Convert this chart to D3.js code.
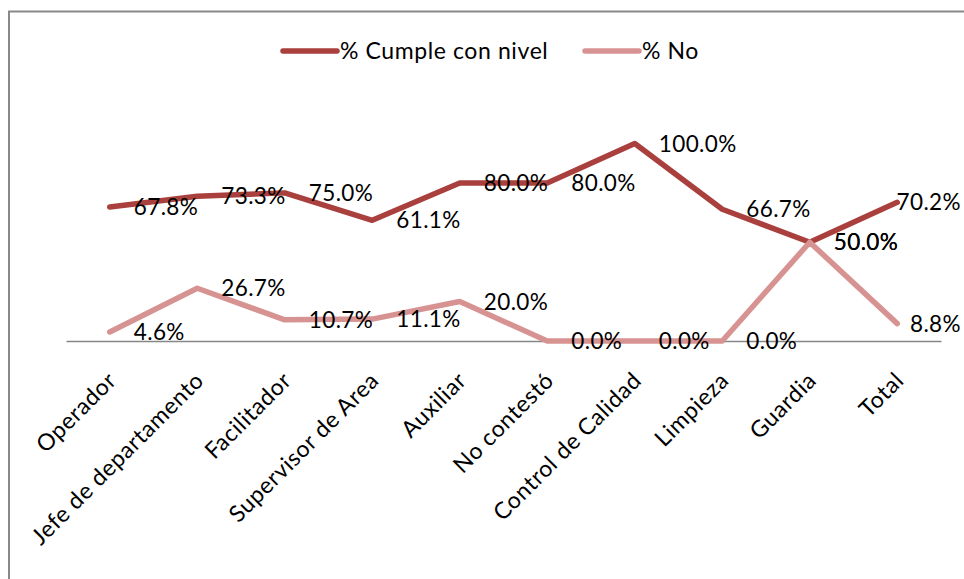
<!DOCTYPE html>
<html>
<head>
<meta charset="utf-8">
<script src="https://cdn.jsdelivr.net/npm/d3@7"></script>
<style>
  body { margin: 0; background: #fff; }
  text { font-family: Lato, "Open Sans", sans-serif; fill: #000; }
</style>
</head>
<body>
<div id="chart"></div>
<script>
var categories = ["Operador", "Jefe de departamento", "Facilitador", "Supervisor de Area", "Auxiliar",
                  "No contestó", "Control de Calidad", "Limpieza", "Guardia", "Total"];
var cumple = [67.8, 73.3, 75.0, 61.1, 80.0, 80.0, 100.0, 66.7, 50.0, 70.2];
var no = [4.6, 26.7, 10.7, 11.1, 20.0, 0.0, 0.0, 0.0, 50.0, 8.8];
var seriesNames = ["% Cumple con nivel", "% No"];

var W = 964, H = 579;
var colors = ["#A9403D", "#D79392"];

var svg = d3.select("#chart").append("svg")
    .attr("width", W)
    .attr("height", H);

// chart frame, only top and left edges show inside the window
svg.append("rect")
    .attr("x", 9).attr("y", 11.5)
    .attr("width", 1200).attr("height", 1200)
    .attr("fill", "none")
    .attr("stroke", "#898989")
    .attr("stroke-width", 2);

var xScale = d3.scaleBand()
    .domain(categories)
    .range([66, 941]);

var yScale = d3.scaleLinear()
    .domain([0, 100])
    .range([341, 143.5]);

// category axis
var xAxis = svg.append("g")
    .attr("transform", "translate(0,341)")
    .call(d3.axisBottom(xScale).tickSize(0).tickSizeOuter(0).tickFormat(""));
xAxis.select(".domain").attr("stroke", "#868686").attr("stroke-width", 1.5);

svg.append("g").selectAll("text")
    .data(categories)
    .enter().append("text")
    .attr("transform", function (d) {
        var cx = xScale(d) + xScale.bandwidth() / 2;
        return "translate(" + (cx + 8) + ",382) rotate(-45)";
    })
    .attr("text-anchor", "end")
    .style("font-size", "23px")
    .style("letter-spacing", "0.6px")
    .text(function (d) { return d; });

var line = d3.line()
    .x(function (d, i) { return xScale(categories[i]) + xScale.bandwidth() / 2; })
    .y(function (d) { return yScale(d); });

var allSeries = [cumple, no];

allSeries.forEach(function (vals, s) {
    svg.append("path")
        .datum(vals)
        .attr("fill", "none")
        .attr("stroke", colors[s])
        .attr("stroke-width", 5.5)
        .attr("stroke-linecap", "round")
        .attr("stroke-linejoin", "round")
        .attr("d", line);
});

// data labels, to the right of each point, kept inside the chart
allSeries.forEach(function (vals, s) {
    svg.append("g").selectAll("text")
        .data(vals)
        .enter().append("text")
        .attr("y", function (d) { return yScale(d); })
        .attr("dy", "0.36em")
        .style("font-size", "22.5px")
        .style("letter-spacing", "0.4px")
        .text(function (d) { return d.toFixed(1) + "%"; })
        .attr("x", function (d, i) {
            var px = xScale(categories[i]) + xScale.bandwidth() / 2 + 24;
            var w = this.getComputedTextLength();
            return Math.min(px, 961 - w);
        });
});

// legend
var legendX = [283, 585];
seriesNames.forEach(function (name, s) {
    svg.append("line")
        .attr("x1", legendX[s]).attr("x2", legendX[s] + 54)
        .attr("y1", 51).attr("y2", 51)
        .attr("stroke", colors[s])
        .attr("stroke-width", 5.5)
        .attr("stroke-linecap", "round");
    svg.append("text")
        .attr("x", legendX[s] + 57)
        .attr("y", 51)
        .attr("dy", "0.36em")
        .style("font-size", "23px")
        .style("letter-spacing", "0.6px")
        .text(name);
});
</script>
</body>
</html>
